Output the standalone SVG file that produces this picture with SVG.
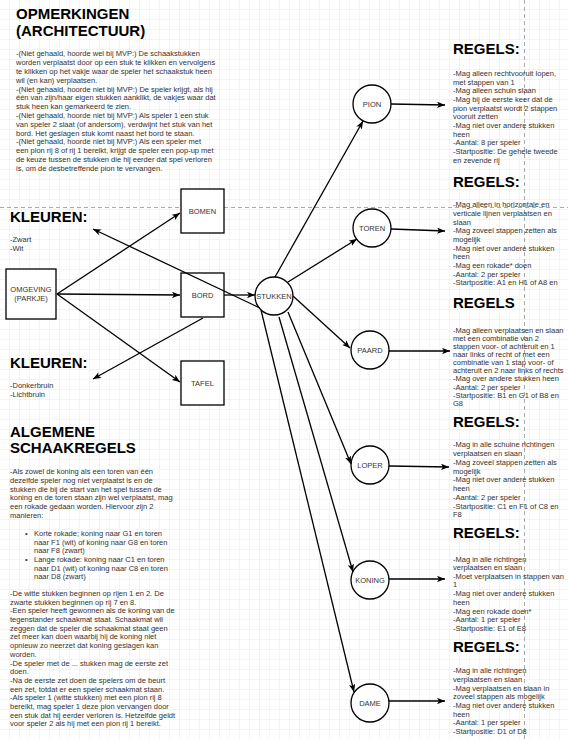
<svg xmlns="http://www.w3.org/2000/svg" width="568" height="739" viewBox="0 0 568 739">
<defs>
<pattern id="g" width="10" height="10" patternUnits="userSpaceOnUse">
<path d="M10 0V10M0 10H10" fill="none" stroke="#e9e9e9" stroke-width="1"/>
</pattern>
<marker id="a" viewBox="0 0 10 8" refX="10" refY="4" markerWidth="8" markerHeight="6.4" markerUnits="userSpaceOnUse" orient="auto">
<path d="M0,0 L10,4 L0,8 L2.5,4 z" fill="#000"/>
</marker>
<style>
text{font-family:"Liberation Sans",Arial,sans-serif}
.t{font-size:7.5px;fill:#333}
.h{font-size:15px;font-weight:bold;fill:#000}
.n{font-size:7.5px;fill:#333;text-anchor:middle}
.box{fill:#fff;stroke:#000;stroke-width:1.3}
.e{fill:none;stroke:#000;stroke-width:1.3;marker-end:url(#a)}
.d{fill:none;stroke:#aaa;stroke-width:1;stroke-dasharray:4 3}
</style>
</defs>
<rect width="568" height="739" fill="#fff"/>
<rect width="568" height="739" fill="url(#g)"/>
<line class="d" x1="0" y1="207.5" x2="568" y2="207.5"/>
<line class="d" x1="524.5" y1="0" x2="524.5" y2="739"/>

<g id="opmerkingen">
<text class="h" x="16" y="19">OPMERKINGEN</text>
<text class="h" x="16" y="36">(ARCHITECTUUR)</text>
<text class="t" x="16" y="56">-(Niet gehaald, hoorde wel bij MVP:) De schaakstukken</text>
<text class="t" x="16" y="65">worden verplaatst door op een stuk te klikken en vervolgens</text>
<text class="t" x="16" y="74">te klikken op het vakje waar de speler het schaakstuk heen</text>
<text class="t" x="16" y="83">wil (en kan) verplaatsen.</text>
<text class="t" x="16" y="92">-(Niet gehaald, hoorde niet bij MVP:) De speler krijgt, als hij</text>
<text class="t" x="16" y="100">één van zijn/haar eigen stukken aanklikt, de vakjes waar dat</text>
<text class="t" x="16" y="109">stuk heen kan gemarkeerd te zien.</text>
<text class="t" x="16" y="118">-(Niet gehaald, hoorde niet  bij MVP:) Als speler 1 een stuk</text>
<text class="t" x="16" y="127">van speler 2 slaat (of andersom), verdwijnt het stuk van het</text>
<text class="t" x="16" y="136">bord. Het geslagen stuk komt naast het bord te staan.</text>
<text class="t" x="16" y="144">-(Niet gehaald, hoorde niet bij MVP:) Als een speler met</text>
<text class="t" x="16" y="153">een pion rij 8 of rij 1 bereikt, krijgt de speler een pop-up met</text>
<text class="t" x="16" y="162">de keuze tussen de stukken die hij eerder dat spel verloren</text>
<text class="t" x="16" y="171">is, om de desbetreffende pion te vervangen.</text>
</g>

<g id="kleuren1">
<text class="h" x="10" y="222">KLEUREN:</text>
<text class="t" x="10" y="242">-Zwart</text>
<text class="t" x="10" y="251">-Wit</text>
</g>

<g id="kleuren2">
<text class="h" x="10" y="368">KLEUREN:</text>
<text class="t" x="10" y="388">-Donkerbruin</text>
<text class="t" x="10" y="397">-Lichtbruin</text>
</g>

<g id="algemeen">
<text class="h" x="10" y="437">ALGEMENE</text>
<text class="h" x="10" y="453">SCHAAKREGELS</text>
<text class="t" x="10" y="474">-Als zowel de koning als een toren van één</text>
<text class="t" x="10" y="483">dezelfde speler nog niet verplaatst is en de</text>
<text class="t" x="10" y="492">stukken die bij de start van het spel tussen de</text>
<text class="t" x="10" y="500">koning en de toren staan zijn wel verplaatst, mag</text>
<text class="t" x="10" y="509">een rokade gedaan worden. Hiervoor zijn 2</text>
<text class="t" x="10" y="518">manieren:</text>
<text class="t" x="25" y="536">•</text>
<text class="t" x="34" y="536">Korte rokade; koning naar G1 en toren</text>
<text class="t" x="34" y="545">naar F1 (wit) of koning naar G8 en toren</text>
<text class="t" x="34" y="553">naar F8 (zwart)</text>
<text class="t" x="25" y="562">•</text>
<text class="t" x="34" y="562">Lange rokade: koning naar C1 en toren</text>
<text class="t" x="34" y="571">naar D1 (wit) of koning naar C8 en toren</text>
<text class="t" x="34" y="579">naar D8 (zwart)</text>
<text class="t" x="10" y="596">-De witte stukken beginnen op rijen 1 en 2. De</text>
<text class="t" x="10" y="605">zwarte stukken beginnen op rij 7 en 8.</text>
<text class="t" x="10" y="613">-Een speler heeft gewonnen als de koning van de</text>
<text class="t" x="10" y="622">tegenstander schaakmat staat. Schaakmat wil</text>
<text class="t" x="10" y="631">zeggen dat de speler die schaakmat staat geen</text>
<text class="t" x="10" y="639">zet meer kan doen waarbij hij de koning niet</text>
<text class="t" x="10" y="648">opnieuw zo neerzet dat koning geslagen kan</text>
<text class="t" x="10" y="657">worden.</text>
<text class="t" x="10" y="666">-De speler met de ... stukken mag de eerste zet</text>
<text class="t" x="10" y="674">doen.</text>
<text class="t" x="10" y="683">-Na de eerste zet doen de spelers om de beurt</text>
<text class="t" x="10" y="692">een zet, totdat er een speler schaakmat staan.</text>
<text class="t" x="10" y="700">-Als speler 1 (witte stukken) met een pion rij 8</text>
<text class="t" x="10" y="709">bereikt, mag speler 1 deze pion vervangen door</text>
<text class="t" x="10" y="718">een stuk dat hij eerder verloren is. Hetzelfde geldt</text>
<text class="t" x="10" y="726">voor speler 2 als hij met een pion rij 1 bereikt.</text>
</g>

<g id="regels-pion">
<text class="h" x="453" y="54">REGELS:</text>
<text class="t" x="453" y="76">-Mag alleen rechtvooruit lopen,</text>
<text class="t" x="453" y="85">met stappen van 1</text>
<text class="t" x="453" y="93">-Mag alleen schuin slaan</text>
<text class="t" x="453" y="102">-Mag bij de eerste keer dat de</text>
<text class="t" x="453" y="111">pion verplaatst wordt 2 stappen</text>
<text class="t" x="453" y="119">vooruit zetten</text>
<text class="t" x="453" y="128">-Mag niet over andere stukken</text>
<text class="t" x="453" y="137">heen</text>
<text class="t" x="453" y="145">-Aantal: 8 per speler</text>
<text class="t" x="453" y="154">-Startpositie: De gehele tweede</text>
<text class="t" x="453" y="163">en zevende rij</text>
</g>

<g id="regels-toren">
<text class="h" x="453" y="187">REGELS:</text>
<text class="t" x="453" y="207">-Mag alleen in horizontale en</text>
<text class="t" x="453" y="216">verticale lijnen verplaatsen en</text>
<text class="t" x="453" y="225">slaan</text>
<text class="t" x="453" y="233">-Mag zoveel stappen zetten als</text>
<text class="t" x="453" y="242">mogelijk</text>
<text class="t" x="453" y="251">-Mag niet over andere stukken</text>
<text class="t" x="453" y="259">heen</text>
<text class="t" x="453" y="268">-Mag een rokade* doen</text>
<text class="t" x="453" y="277">-Aantal: 2 per speler</text>
<text class="t" x="453" y="285">-Startpositie: A1 en H1 of A8 en</text>
</g>

<g id="regels-paard">
<text class="h" x="453" y="308">REGELS</text>
<text class="t" x="453" y="333">-Mag alleen verplaatsen en slaan</text>
<text class="t" x="453" y="341">met een combinatie van 2</text>
<text class="t" x="453" y="349">stappen voor- of achteruit en 1</text>
<text class="t" x="453" y="357">naar links of recht of met een</text>
<text class="t" x="453" y="365">combinatie van 1 stap voor- of</text>
<text class="t" x="453" y="373">achteruit en 2 naar links of rechts</text>
<text class="t" x="453" y="381">-Mag over andere stukken heen</text>
<text class="t" x="453" y="390">-Aantal: 2 per speler</text>
<text class="t" x="453" y="398">-Startpositie: B1 en G1 of B8 en</text>
<text class="t" x="453" y="406">G8</text>
</g>

<g id="regels-loper">
<text class="h" x="453" y="427">REGELS:</text>
<text class="t" x="453" y="447">-Mag in alle schuine richtingen</text>
<text class="t" x="453" y="456">verplaatsen en slaan</text>
<text class="t" x="453" y="465">-Mag zoveel stappen zetten als</text>
<text class="t" x="453" y="474">mogelijk</text>
<text class="t" x="453" y="482">-Mag niet over andere stukken</text>
<text class="t" x="453" y="491">heen</text>
<text class="t" x="453" y="500">-Aantal: 2 per speler</text>
<text class="t" x="453" y="509">-Startpositie: C1 en F1 of C8 en</text>
<text class="t" x="453" y="517">F8</text>
</g>

<g id="regels-koning">
<text class="h" x="453" y="538">REGELS:</text>
<text class="t" x="453" y="562">-Mag in alle richtingen</text>
<text class="t" x="453" y="570">verplaatsen en slaan</text>
<text class="t" x="453" y="579">-Moet verplaatsen in stappen van</text>
<text class="t" x="453" y="587">1</text>
<text class="t" x="453" y="596">-Mag niet over andere stukken</text>
<text class="t" x="453" y="605">heen</text>
<text class="t" x="453" y="614">-Mag een rokade doen*</text>
<text class="t" x="453" y="622">-Aantal: 1 per speler</text>
<text class="t" x="453" y="631">-Startpositie: E1 of E8</text>
</g>

<g id="regels-dame">
<text class="h" x="453" y="652">REGELS:</text>
<text class="t" x="453" y="673">-Mag in alle richtingen</text>
<text class="t" x="453" y="682">verplaatsen en slaan</text>
<text class="t" x="453" y="691">-Mag verplaatsen en slaan in</text>
<text class="t" x="453" y="699">zoveel stappen als mogelijk</text>
<text class="t" x="453" y="708">-Mag niet over andere stukken</text>
<text class="t" x="453" y="717">heen</text>
<text class="t" x="453" y="725">-Aantal: 1 per speler</text>
<text class="t" x="453" y="734">-Startpositie: D1 of D8</text>
</g>

<g id="omgeving"><rect class="box" x="6" y="269" width="50" height="50"/><text class="n" x="31" y="292">OMGEVING</text><text class="n" x="31" y="301">(PARKJE)</text></g>
<g id="bomen"><rect class="box" x="181" y="189" width="43" height="44"/><text class="n" x="202.5" y="213.5">BOMEN</text></g>
<g id="bord"><rect class="box" x="181" y="273" width="43" height="44"/><text class="n" x="202.5" y="297.5">BORD</text></g>
<g id="tafel"><rect class="box" x="181" y="361" width="43" height="44"/><text class="n" x="202.5" y="385.5">TAFEL</text></g>
<g id="stukken"><circle class="box" cx="274" cy="296" r="19"/><text class="n" x="274" y="298.5">STUKKEN</text></g>
<g id="pion"><circle class="box" cx="372" cy="104" r="19"/><text class="n" x="372" y="106.5">PION</text></g>
<g id="toren"><circle class="box" cx="372" cy="228" r="19"/><text class="n" x="372" y="230.5">TOREN</text></g>
<g id="paard"><circle class="box" cx="370" cy="350" r="19"/><text class="n" x="370" y="352.5">PAARD</text></g>
<g id="loper"><circle class="box" cx="370" cy="465" r="19"/><text class="n" x="370" y="467.5">LOPER</text></g>
<g id="koning"><circle class="box" cx="370" cy="580" r="19"/><text class="n" x="370" y="582.5">KONING</text></g>
<g id="dame"><circle class="box" cx="370" cy="703" r="19"/><text class="n" x="370" y="705.5">DAME</text></g>

<g id="connectors">
<path class="e" d="M57,294 L180,213"/>
<path class="e" d="M57,294 L180,295"/>
<path class="e" d="M57,294 L180,382"/>
<path class="e" d="M224,295 L255,295"/>
<path class="e" d="M260,308 L93,229"/>
<path class="e" d="M203,318 L93,379"/>
<path class="e" d="M275,277 L363,121"/>
<path class="e" d="M288,282 L357,239"/>
<path class="e" d="M293,296 L350,348"/>
<path class="e" d="M288,312 L351,464"/>
<path class="e" d="M279,317 L353,572"/>
<path class="e" d="M261,310 L354,692"/>
<path class="e" d="M391,104 L445,105"/>
<path class="e" d="M391,229 L445,231"/>
<path class="e" d="M389,351 L450,351"/>
<path class="e" d="M389,466 L449,467"/>
<path class="e" d="M389,579 L445,579"/>
<path class="e" d="M389,701 L445,701"/>
</g>
</svg>
